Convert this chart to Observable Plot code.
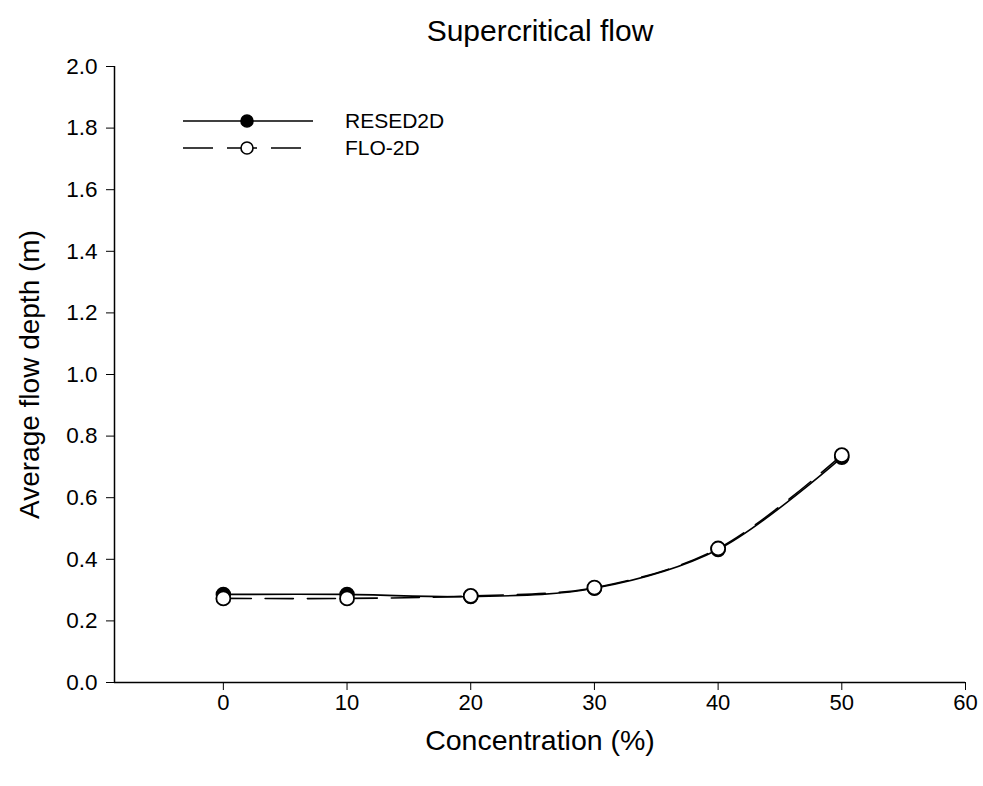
<!DOCTYPE html>
<html><head><meta charset="utf-8">
<script src="https://cdn.jsdelivr.net/npm/d3@7"></script>
<script src="https://cdn.jsdelivr.net/npm/@observablehq/plot@0.6"></script>
<style>
body{margin:0;background:#fff;font-family:"Liberation Sans",Arial,sans-serif}
#wrap{position:relative;width:983px;height:786px}
#wrap svg{position:absolute;left:0;top:0}
</style>
</head><body><div id="wrap"></div>
<script>
const concentration = [0, 10, 20, 30, 40, 50];
const resed2d = [0.286, 0.286, 0.279, 0.306, 0.432, 0.731];
const flo2d = [0.273, 0.273, 0.281, 0.308, 0.435, 0.738];
const xTicks = [0, 10, 20, 30, 40, 50, 60];
const yTicks = [0, 0.2, 0.4, 0.6, 0.8, 1.0, 1.2, 1.4, 1.6, 1.8, 2.0];
const xDomain = [-8.8, 60];
const yDomain = [0, 2];
const seriesNames = ["RESED2D", "FLO-2D"];
const title = "Supercritical flow";
const xLabel = "Concentration (%)";
const yLabel = "Average flow depth (m)";

const resData = concentration.map((c, i) => ({x: c, y: resed2d[i]}));
const floData = concentration.map((c, i) => ({x: c, y: flo2d[i]}));

const font = "Liberation Sans, Arial, sans-serif";

const chart = Plot.plot({
  width: 983, height: 786,
  marginLeft: 114, marginRight: 18, marginTop: 66, marginBottom: 104,
  style: {fontFamily: font, fontSize: "22px", background: "white", color: "black"},
  x: {domain: xDomain},
  y: {domain: yDomain},
  marks: [
    Plot.axisX({ticks: xTicks, tickSize: 8, tickPadding: 4, fontSize: 22, label: null, tickFormat: d3.format("d")}),
    Plot.axisY({ticks: yTicks, tickSize: 8, tickPadding: 9, fontSize: 22.5, label: null, tickFormat: d3.format(".1f")}),
    Plot.ruleY([yDomain[0]], {stroke: "black", strokeWidth: 1.5}),
    Plot.ruleX([xDomain[0]], {stroke: "black", strokeWidth: 1.5}),
    Plot.line(resData, {x: "x", y: "y", curve: "catmull-rom", stroke: "black", strokeWidth: 1.6}),
    Plot.dot(resData, {x: "x", y: "y", r: 7, fill: "black", stroke: "black", strokeWidth: 1.5}),
    Plot.line(floData, {x: "x", y: "y", curve: "catmull-rom", stroke: "black", strokeWidth: 1.6, strokeDasharray: "28,14"}),
    Plot.dot(floData, {x: "x", y: "y", r: 7, fill: "white", stroke: "black", strokeWidth: 1.8}),
    Plot.text([title], {text: d => d, frameAnchor: "top", dy: -35, fontSize: 30, lineAnchor: "middle"}),
    Plot.text([xLabel], {text: d => d, frameAnchor: "bottom", dy: 58, fontSize: 28.5, lineAnchor: "middle"}),
    Plot.text([yLabel], {text: d => d, frameAnchor: "left", dx: -84, rotate: -90, fontSize: 28, textAnchor: "middle", lineAnchor: "middle"})
  ]
});
document.getElementById("wrap").appendChild(chart);

// Legend overlay
const leg = d3.select("#wrap").append("svg")
  .attr("width", 983).attr("height", 786)
  .style("pointer-events", "none");
const rows = [
  {name: seriesNames[0], y: 121, dash: null, fill: "black"},
  {name: seriesNames[1], y: 148, dash: "30,14", fill: "white"}
];
rows.forEach(r => {
  leg.append("line").attr("x1", 183).attr("x2", 313).attr("y1", r.y).attr("y2", r.y)
    .attr("stroke", "black").attr("stroke-width", 1.6)
    .attr("stroke-dasharray", r.dash);
  leg.append("circle").attr("cx", 247).attr("cy", r.y).attr("r", 6)
    .attr("fill", r.fill).attr("stroke", "black").attr("stroke-width", 1.6);
  leg.append("text").attr("x", 345).attr("y", r.y).attr("dy", "0.35em")
    .attr("font-family", font).attr("font-size", 21).text(r.name);
});
</script>
</body></html>
